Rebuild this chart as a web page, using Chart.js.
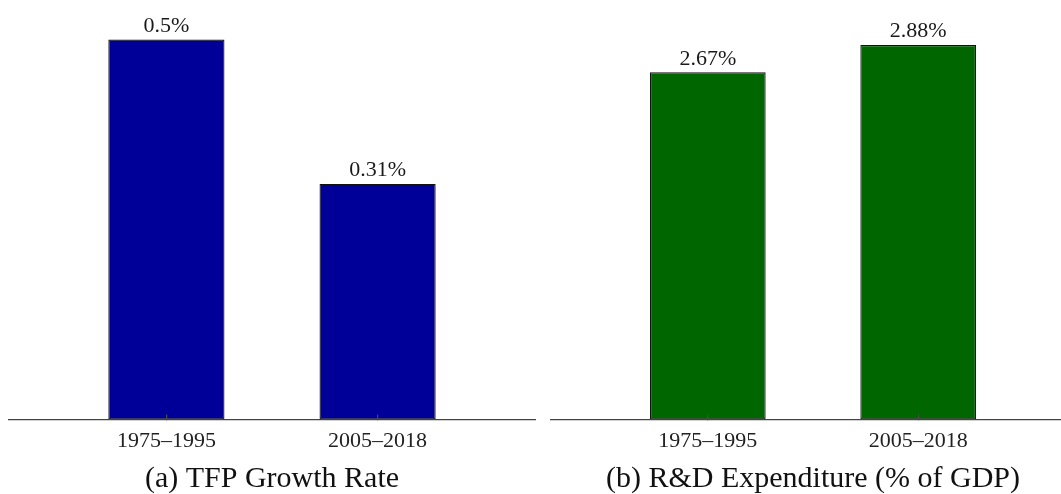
<!DOCTYPE html>
<html>
<head>
<meta charset="utf-8">
<script src="https://cdn.jsdelivr.net/npm/chart.js@4/dist/chart.umd.min.js"></script>
<style>
  html, body { margin: 0; padding: 0; background: #fff; overflow: hidden; }
  body { width: 1061px; height: 494px; position: relative; }
  .panel { position: absolute; top: 0; height: 494px; }
  #panel-a { left: 8px; width: 528px; }
  #panel-b { left: 550px; width: 526px; }
</style>
</head>
<body>
<div class="panel" id="panel-a"><canvas id="chart-a"></canvas></div>
<div class="panel" id="panel-b"><canvas id="chart-b"></canvas></div>
<script>
// periods compared in both panels
const periods = ['1975–1995', '2005–2018'];

// (a) TFP growth rate, percent
const tfpGrowth = [0.5, 0.31];

// (b) R&D expenditure, percent of GDP
const rdExpenditure = [2.67, 2.88];

const serif = "'Liberation Serif', 'DejaVu Serif', serif";

// writes "value%" just above every bar
const valueLabels = {
  id: 'valueLabels',
  afterDatasetsDraw(chart) {
    const ctx = chart.ctx;
    const meta = chart.getDatasetMeta(0);
    const values = chart.data.datasets[0].data;
    ctx.save();
    ctx.font = '22px ' + serif;
    ctx.fillStyle = '#1a1a1a';
    ctx.textAlign = 'center';
    ctx.textBaseline = 'alphabetic';
    meta.data.forEach((bar, i) => {
      ctx.fillText(values[i].y + '%', bar.x, bar.y - 7.5);
    });
    ctx.restore();
  }
};

function makePanel(canvasId, values, color, yMax, caption) {
  return new Chart(document.getElementById(canvasId), {
    type: 'bar',
    data: {
      datasets: [{
        data: values.map((v, i) => ({ x: i, y: v })),
        backgroundColor: color,
        borderColor: '#111',
        borderWidth: 1.2,
        borderSkipped: false,
        barPercentage: 0.55,
        categoryPercentage: 1
      }]
    },
    options: {
      responsive: true,
      maintainAspectRatio: false,
      animation: false,
      layout: { padding: 0 },
      plugins: {
        legend: { display: false },
        tooltip: { enabled: false },
        title: {
          display: true,
          position: 'bottom',
          text: caption,
          color: '#111',
          font: { family: serif, size: 30, weight: 'normal', lineHeight: 0.7667 },
          padding: { top: 0, bottom: 3.5 }
        }
      },
      scales: {
        x: {
          type: 'linear',
          min: -0.75,
          max: 1.75,
          offset: false,
          afterBuildTicks: (scale) => {
            scale.ticks = periods.map((p, i) => ({ value: i }));
          },
          ticks: {
            callback: (value) => periods[value],
            color: '#222',
            font: { family: serif, size: 22, lineHeight: 1.3 },
            padding: 12.2,
            maxRotation: 0,
            z: 1
          },
          // short inward tick marks, painted over the bars
          grid: {
            offset: false,
            drawOnChartArea: false,
            drawTicks: true,
            tickLength: -5,
            color: '#4a4a4a',
            lineWidth: 1.2,
            z: 1
          },
          border: { display: true, color: '#444', width: 1.2, z: 1 }
        },
        y: {
          display: false,
          min: 0,
          max: yMax
        }
      }
    },
    plugins: [valueLabels]
  });
}

makePanel('chart-a', tfpGrowth, '#000099', 0.552, '(a) TFP Growth Rate');
makePanel('chart-b', rdExpenditure, '#006600', 3.226, '(b) R&D Expenditure (% of GDP)');
</script>
</body>
</html>
